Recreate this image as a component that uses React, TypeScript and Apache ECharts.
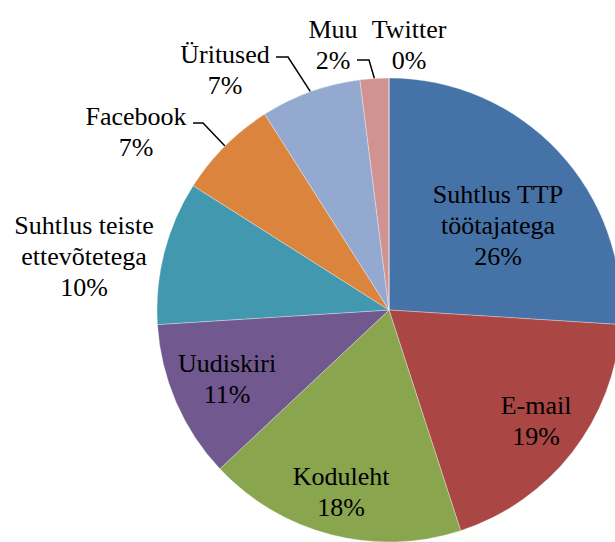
import React, { useEffect, useRef } from "react";
import * as echarts from "echarts";

const categories = [
  "Suhtlus TTP\ntöötajatega",
  "E-mail",
  "Koduleht",
  "Uudiskiri",
  "Suhtlus teiste\nettevõtetega",
  "Facebook",
  "Üritused",
  "Muu",
  "Twitter",
];
const values = [26, 19, 18, 11, 10, 7, 7, 2, 0];
const colors = [
  "#4572A7",
  "#AA4643",
  "#89A54E",
  "#71588F",
  "#4198AF",
  "#DB843D",
  "#93A9CF",
  "#D19392",
  "#B9CD96",
];
// label block centres (layout only)
const labelPos: [number, number][] = [
  [498, 225],
  [536, 421],
  [341, 492],
  [227, 379],
  [84, 256],
  [136, 132],
  [225, 70],
  [333, 45],
  [409, 45],
];
// elbow of leader line (only for outside labels with a line)
const leaderElbow: (null | [number, number])[] = [
  null, null, null, null, null,
  [193, 123],
  [276, 57],
  [357, 60],
  null,
];
const outside = [false, false, false, false, true, true, true, true, true];

const CX = 389;
const CY = 310;
const R = 232;
const FONT = "'Liberation Serif', 'Times New Roman', serif";

export default function App() {
  const ref = useRef<HTMLDivElement>(null);
  useEffect(() => {
    if (!ref.current) return;
    const chart = echarts.init(ref.current, null, { renderer: "svg" });
    const total = values.reduce((a, b) => a + b, 0);
    const midAngles: number[] = [];
    let acc = 0;
    values.forEach((v) => {
      midAngles.push(((acc + v / 2) / total) * Math.PI * 2);
      acc += v;
    });
    const data = categories.map((name, i) => ({
      name,
      value: values[i],
      itemStyle: { color: colors[i] },
      label: { position: outside[i] ? "outside" : "inside" },
      labelLine: { show: !!leaderElbow[i] },
    }));
    chart.setOption({
      animation: false,
      backgroundColor: "#ffffff",
      textStyle: { fontFamily: FONT },
      series: [
        {
          type: "pie",
          center: [CX, CY],
          radius: R,
          startAngle: 90,
          clockwise: true,
          avoidLabelOverlap: false,
          data,
          itemStyle: { borderColor: "rgba(255,255,255,0.45)", borderWidth: 0.7 },
          label: {
            show: true,
            color: "#000",
            fontFamily: FONT,
            fontSize: 26,
            lineHeight: 31,
            align: "center",
            formatter: (p: any) => `${p.name}\n${Math.round(p.percent)}%`,
          },
          labelLine: {
            show: true,
            lineStyle: { color: "#000", width: 1.5 },
          },
          labelLayout: (params: any) => {
            const i = params.dataIndex;
            const [x, y] = labelPos[i];
            const res: any = {
              x,
              y,
              align: "center",
              verticalAlign: "middle",
              hideOverlap: false,
            };
            const el = leaderElbow[i];
            if (el) {
              const a = midAngles[i];
              const px = CX + R * Math.sin(a);
              const py = CY - R * Math.cos(a);
              res.labelLinePoints = [
                [px, py],
                [el[0] + (i === 5 ? 10 : 12), el[1]],
                [el[0], el[1]],
              ];
            }
            return res;
          },
        },
      ],
    });
    return () => chart.dispose();
  }, []);
  return (
    <div
      ref={ref}
      style={{ position: "absolute", left: 0, top: 0, width: 615, height: 542 }}
    />
  );
}
